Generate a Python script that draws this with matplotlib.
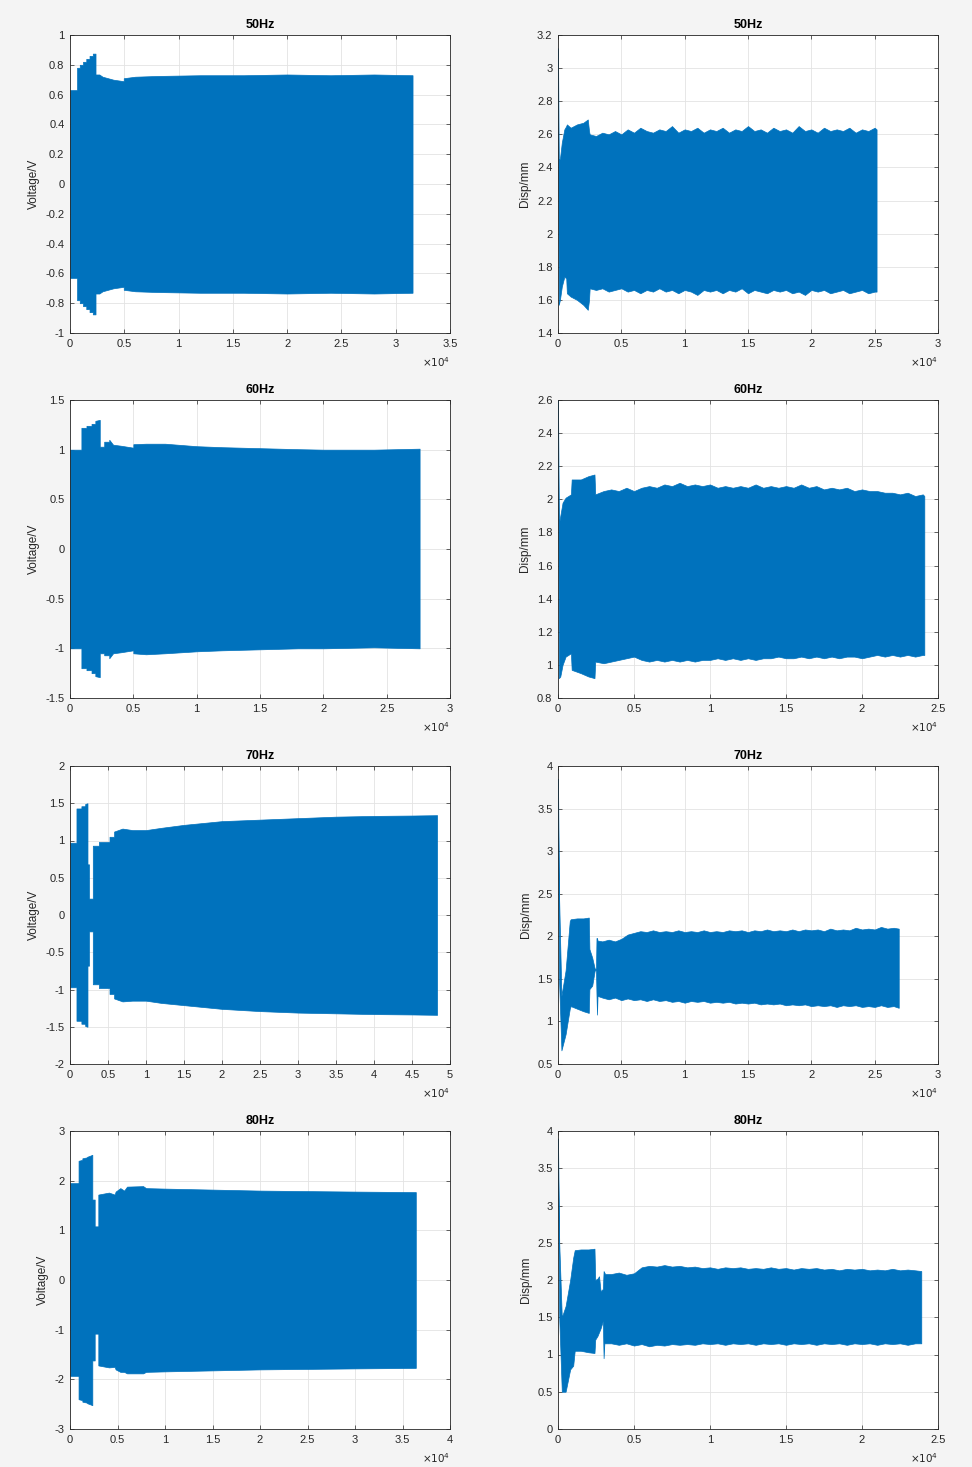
import matplotlib
matplotlib.use('Agg')
import matplotlib.pyplot as plt
from matplotlib.ticker import FuncFormatter

plt.rcParams['font.family'] = ['Liberation Sans', 'DejaVu Sans']
plt.rcParams['axes.unicode_minus'] = False

blue = '#0072BD'
ink = '#262626'

# ---- 50Hz voltage ----
v50_x = [0, 650, 650, 900, 900, 1200, 1200, 1500, 1500, 1800, 1800, 2100, 2100, 2350, 2350, 2700, 3000, 4000, 4950, 4950, 6000, 8000, 12000, 16000, 20000, 24000, 28000, 31550]
v50_hi = [0.63, 0.63, 0.78, 0.78, 0.80, 0.80, 0.82, 0.82, 0.84, 0.84, 0.86, 0.86, 0.875, 0.875, 0.735, 0.735, 0.72, 0.70, 0.69, 0.71, 0.72, 0.725, 0.73, 0.73, 0.735, 0.73, 0.735, 0.73]
v50_lo = [-0.63, -0.63, -0.78, -0.78, -0.80, -0.80, -0.82, -0.82, -0.84, -0.84, -0.86, -0.86, -0.875, -0.875, -0.735, -0.735, -0.72, -0.70, -0.69, -0.71, -0.72, -0.725, -0.73, -0.73, -0.735, -0.73, -0.735, -0.73]

# ---- 50Hz displacement ----
d50_head_x = [0, 60, 150, 300, 500, 650, 700, 1000, 1500, 2000, 2350, 2450]
d50_head_hi = [3.12, 2.45, 2.45, 2.55, 2.63, 2.65, 2.66, 2.64, 2.66, 2.67, 2.69, 2.62]
d50_head_lo = [2.90, 1.57, 1.60, 1.68, 1.74, 1.73, 1.64, 1.62, 1.60, 1.57, 1.54, 1.60]
d50_tail_x = list(range(2500, 25001, 500)) + [25150]
d50_tail_hi = [2.60, 2.59, 2.61, 2.60, 2.62, 2.60, 2.63, 2.61, 2.64, 2.62,
               2.61, 2.63, 2.62, 2.65, 2.61, 2.63, 2.62, 2.64, 2.61, 2.63,
               2.62, 2.64, 2.61, 2.63, 2.62, 2.65, 2.62, 2.63, 2.61, 2.64,
               2.62, 2.63, 2.61, 2.65, 2.62, 2.63, 2.61, 2.64, 2.62, 2.63,
               2.62, 2.64, 2.61, 2.63, 2.62, 2.64, 2.63]
d50_tail_lo = [1.67, 1.66, 1.67, 1.65, 1.66, 1.67, 1.65, 1.66, 1.64, 1.66,
               1.65, 1.67, 1.65, 1.66, 1.64, 1.66, 1.65, 1.63, 1.66, 1.65,
               1.66, 1.64, 1.66, 1.65, 1.67, 1.64, 1.66, 1.65, 1.64, 1.66,
               1.65, 1.66, 1.64, 1.65, 1.63, 1.66, 1.65, 1.66, 1.64, 1.65,
               1.66, 1.64, 1.65, 1.66, 1.64, 1.65, 1.65]

# ---- 60Hz voltage ----
v60_x = [0, 900, 900, 1300, 1300, 1700, 1700, 2000, 2000, 2350, 2350, 2700, 2700, 3100, 3100, 3400, 4000, 5000, 5000, 6000, 7500, 10000, 12000, 15000, 18000, 20000, 24000, 27600]
v60_hi = [1.0, 1.0, 1.22, 1.22, 1.24, 1.24, 1.26, 1.26, 1.29, 1.30, 1.03, 1.03, 1.08, 1.08, 1.10, 1.05, 1.04, 1.02, 1.055, 1.06, 1.06, 1.035, 1.025, 1.015, 1.005, 1.0, 1.0, 1.01]
v60_lo = [-1.0, -1.0, -1.20, -1.20, -1.22, -1.22, -1.25, -1.25, -1.28, -1.29, -1.05, -1.05, -1.07, -1.07, -1.10, -1.05, -1.04, -1.02, -1.05, -1.06, -1.05, -1.03, -1.02, -1.01, -1.0, -1.0, -0.99, -1.0]

# ---- 60Hz displacement ----
d60_head_x = [0, 60, 150, 300, 500, 850, 900, 1500, 2000, 2400, 2450]
d60_head_hi = [2.60, 1.85, 1.90, 1.98, 2.01, 2.03, 2.12, 2.12, 2.14, 2.15, 2.03]
d60_head_lo = [2.40, 0.92, 0.93, 1.00, 1.05, 1.07, 0.97, 0.95, 0.93, 0.92, 1.02]
d60_tail_x = list(range(3000, 24001, 500)) + [24100]
d60_tail_hi = [2.05, 2.06, 2.05, 2.07, 2.05, 2.07, 2.08, 2.07, 2.09, 2.08,
               2.10, 2.08, 2.09, 2.08, 2.09, 2.07, 2.08, 2.07, 2.08, 2.07,
               2.09, 2.07, 2.08, 2.07, 2.08, 2.07, 2.09, 2.07, 2.08, 2.06,
               2.07, 2.06, 2.07, 2.05, 2.06, 2.05, 2.05, 2.04, 2.04, 2.03,
               2.04, 2.02, 2.03, 2.02]
d60_tail_lo = [1.01, 1.02, 1.03, 1.04, 1.05, 1.03, 1.02, 1.03, 1.02, 1.03,
               1.02, 1.03, 1.02, 1.03, 1.03, 1.04, 1.03, 1.04, 1.03, 1.04,
               1.03, 1.04, 1.04, 1.05, 1.04, 1.04, 1.05, 1.04, 1.05, 1.04,
               1.05, 1.04, 1.05, 1.05, 1.04, 1.05, 1.06, 1.05, 1.06, 1.05,
               1.06, 1.05, 1.06, 1.06]

# ---- 70Hz voltage ----
v70_x = [0, 850, 850, 1500, 1500, 2000, 2000, 2300, 2300, 2500, 2500, 3000, 3000, 3800, 3800, 5200, 5200, 5800, 5800, 6900, 8200, 10000, 12000, 15000, 20000, 25000, 30000, 35000, 40000, 45000, 48300]
v70_hi = [0.97, 0.97, 1.43, 1.43, 1.46, 1.46, 1.49, 1.50, 0.68, 0.68, 0.22, 0.22, 0.93, 0.93, 0.98, 0.98, 1.05, 1.05, 1.12, 1.16, 1.14, 1.14, 1.17, 1.21, 1.26, 1.28, 1.30, 1.32, 1.33, 1.335, 1.34]
v70_lo = [-0.97, -0.97, -1.42, -1.42, -1.46, -1.46, -1.49, -1.50, -0.68, -0.68, -0.22, -0.22, -0.93, -0.93, -0.98, -0.98, -1.06, -1.06, -1.12, -1.16, -1.15, -1.15, -1.18, -1.21, -1.26, -1.29, -1.31, -1.32, -1.33, -1.335, -1.34]

# ---- 70Hz displacement ----
d70_head_x = [0, 80, 270, 600, 930, 1000, 1500, 2000, 2430, 2480, 2700, 2900, 3000, 3040, 3080, 3120]
d70_head_hi = [3.85, 2.50, 1.30, 1.60, 2.18, 2.20, 2.21, 2.21, 2.22, 1.85, 1.75, 1.62, 1.62, 1.98, 1.98, 1.95]
d70_head_lo = [3.60, 1.50, 0.66, 0.85, 1.15, 1.18, 1.15, 1.12, 1.10, 1.38, 1.42, 1.60, 1.60, 1.30, 1.08, 1.30]
d70_tail_x = list(range(3500, 26501, 500)) + [26900]
d70_tail_hi = [1.94, 1.96, 1.94, 1.97, 2.02, 2.04, 2.06, 2.05, 2.07, 2.05,
               2.06, 2.05, 2.07, 2.05, 2.06, 2.05, 2.07, 2.05, 2.06, 2.05,
               2.07, 2.06, 2.07, 2.05, 2.07, 2.06, 2.08, 2.06, 2.07, 2.06,
               2.08, 2.06, 2.08, 2.07, 2.08, 2.06, 2.09, 2.07, 2.08, 2.07,
               2.10, 2.08, 2.09, 2.08, 2.11, 2.09, 2.10, 2.09]
d70_tail_lo = [1.28, 1.26, 1.28, 1.25, 1.27, 1.25, 1.26, 1.24, 1.26, 1.24,
               1.25, 1.23, 1.24, 1.22, 1.24, 1.23, 1.24, 1.22, 1.23, 1.22,
               1.23, 1.21, 1.22, 1.21, 1.22, 1.20, 1.21, 1.20, 1.21, 1.19,
               1.20, 1.19, 1.20, 1.18, 1.19, 1.18, 1.19, 1.17, 1.19, 1.18,
               1.19, 1.17, 1.18, 1.17, 1.19, 1.17, 1.18, 1.16]

# ---- 80Hz voltage ----
v80_x = [0, 900, 900, 1300, 1300, 1800, 1800, 2350, 2350, 2600, 2600, 2980, 2980, 4100, 4700, 4800, 5300, 5700, 6000, 7700, 8000, 10000, 15000, 20000, 25000, 30000, 36400]
v80_hi = [1.95, 1.95, 2.40, 2.42, 2.45, 2.47, 2.48, 2.52, 1.62, 1.62, 1.08, 1.08, 1.72, 1.76, 1.72, 1.78, 1.85, 1.80, 1.88, 1.89, 1.85, 1.84, 1.82, 1.80, 1.79, 1.78, 1.77]
v80_lo = [-1.93, -1.93, -2.40, -2.42, -2.45, -2.47, -2.48, -2.52, -1.62, -1.62, -1.08, -1.08, -1.72, -1.76, -1.75, -1.80, -1.85, -1.85, -1.88, -1.88, -1.85, -1.84, -1.82, -1.80, -1.79, -1.78, -1.77]

# ---- 80Hz displacement ----
d80_head_x = [0, 80, 250, 500, 800, 1000, 1100, 1500, 2000, 2400, 2450, 2600, 2700, 2800, 2950, 3000, 3050, 3100]
d80_head_hi = [3.90, 2.50, 1.50, 1.65, 2.00, 2.30, 2.40, 2.41, 2.41, 2.42, 2.00, 2.02, 2.05, 1.85, 1.88, 2.12, 2.10, 2.08]
d80_head_lo = [3.60, 1.50, 0.50, 0.50, 0.80, 0.85, 1.05, 1.05, 1.03, 1.02, 1.20, 1.25, 1.30, 1.35, 1.45, 0.95, 1.15, 1.15]
d80_tail_x = list(range(3500, 23501, 500)) + [23900]
d80_tail_hi = [2.08, 2.10, 2.07, 2.09, 2.17, 2.19, 2.18, 2.20, 2.18, 2.19,
               2.17, 2.18, 2.16, 2.17, 2.15, 2.17, 2.16, 2.17, 2.15, 2.16,
               2.15, 2.17, 2.15, 2.16, 2.14, 2.16, 2.15, 2.16, 2.14, 2.15,
               2.13, 2.15, 2.14, 2.15, 2.13, 2.14, 2.13, 2.15, 2.13, 2.14,
               2.13, 2.12]
d80_tail_lo = [1.15, 1.13, 1.15, 1.12, 1.14, 1.11, 1.13, 1.12, 1.14, 1.13,
               1.14, 1.13, 1.15, 1.14, 1.15, 1.13, 1.15, 1.14, 1.15, 1.13,
               1.15, 1.14, 1.15, 1.13, 1.15, 1.14, 1.15, 1.13, 1.15, 1.14,
               1.15, 1.13, 1.15, 1.14, 1.15, 1.13, 1.15, 1.14, 1.15, 1.13,
               1.15, 1.15]

d50 = (d50_head_x + d50_tail_x, d50_head_hi + d50_tail_hi, d50_head_lo + d50_tail_lo)
d60 = (d60_head_x + d60_tail_x, d60_head_hi + d60_tail_hi, d60_head_lo + d60_tail_lo)
d70 = (d70_head_x + d70_tail_x, d70_head_hi + d70_tail_hi, d70_head_lo + d70_tail_lo)
d80 = (d80_head_x + d80_tail_x, d80_head_hi + d80_tail_hi, d80_head_lo + d80_tail_lo)

titles = ['50Hz', '50Hz', '60Hz', '60Hz', '70Hz', '70Hz', '80Hz', '80Hz']
ylabels = ['Voltage/V', 'Disp/mm'] * 4
series = [(v50_x, v50_hi, v50_lo), d50,
          (v60_x, v60_hi, v60_lo), d60,
          (v70_x, v70_hi, v70_lo), d70,
          (v80_x, v80_hi, v80_lo), d80]
xlims = [35000, 30000, 30000, 25000, 50000, 30000, 40000, 25000]
ylims = [(-1, 1), (1.4, 3.2), (-1.5, 1.5), (0.8, 2.6), (-2, 2), (0.5, 4), (-3, 3), (0, 4)]
ysteps = [0.2, 0.2, 0.5, 0.2, 0.5, 0.5, 1, 0.5]

W, H = 972, 1467
fig = plt.figure(figsize=(W / 100, H / 100), dpi=100, facecolor='#f4f4f4')

lefts = [70, 558]
tops = [35, 400, 766, 1131]
aw, ah = 380, 298

fmt = FuncFormatter(lambda v, p: ('%g' % round(v, 4)))
xfmt = FuncFormatter(lambda v, p: ('%g' % round(v / 1e4, 4)))

for i in range(8):
    r, c = divmod(i, 2)
    ax = fig.add_axes([lefts[c] / W, 1 - (tops[r] + ah) / H, aw / W, ah / H])
    x, hi, lo = series[i]
    ax.fill_between(x, lo, hi, color=blue, linewidth=0.5, edgecolor=blue)
    ax.set_xlim(0, xlims[i])
    ax.set_ylim(*ylims[i])
    ax.set_xticks([k * 5000 for k in range(int(xlims[i] / 5000) + 1)])
    y0, y1 = ylims[i]
    n = int(round((y1 - y0) / ysteps[i]))
    ax.set_yticks([y0 + k * ysteps[i] for k in range(n + 1)])
    ax.xaxis.set_major_formatter(xfmt)
    ax.yaxis.set_major_formatter(fmt)
    ax.set_facecolor('white')
    ax.set_axisbelow(True)
    ax.grid(True, color='#e3e3e3', linewidth=0.6)
    ax.tick_params(direction='in', top=True, right=True, length=3, width=0.5,
                   labelsize=8, colors=ink, pad=4)
    for s in ax.spines.values():
        s.set_color(ink)
        s.set_linewidth(0.6)
    ax.set_title(titles[i], fontsize=9, fontweight='bold', color='black', pad=5)
    ax.set_ylabel(ylabels[i], fontsize=8.5, color=ink, labelpad=4)
    ax.text(1.0, -0.097, r'$\times10^{4}$', transform=ax.transAxes, ha='right',
            va='center', fontsize=7.5, color=ink)

fig.savefig('out.png', dpi=100, facecolor=fig.get_facecolor())
